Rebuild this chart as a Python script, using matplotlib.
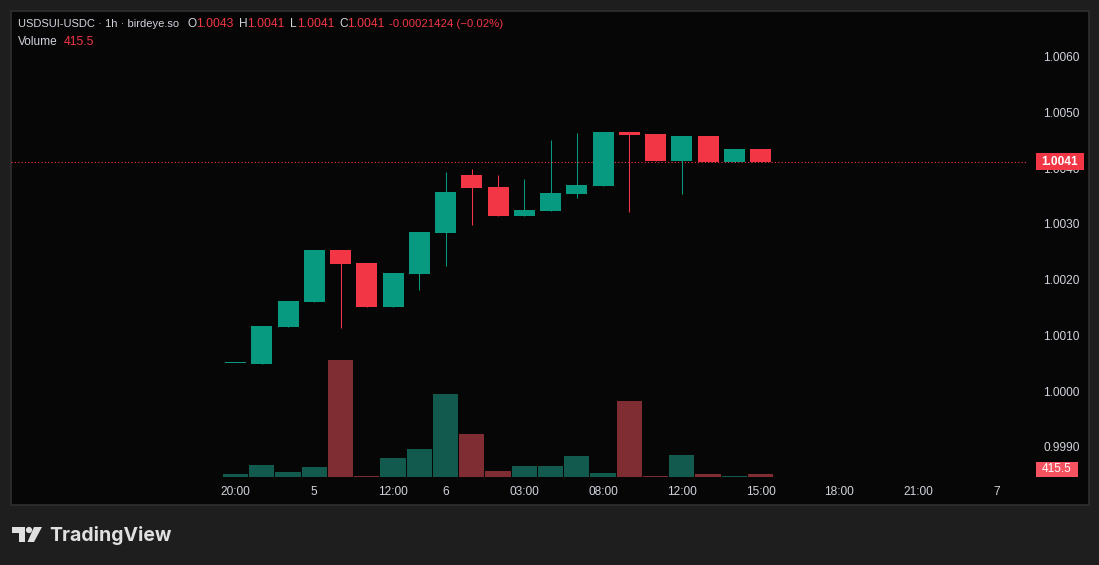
import matplotlib
matplotlib.use("Agg")
import matplotlib.pyplot as plt
from matplotlib.patches import Rectangle, Polygon, Circle

# ---------------- data ----------------
opens  = [1.00050, 1.00049, 1.00115, 1.00160, 1.00253, 1.00230, 1.00151, 1.00210,
          1.00284, 1.00388, 1.00366, 1.00314, 1.00323, 1.00354, 1.00368, 1.00465,
          1.00461, 1.00413, 1.00458, 1.00412, 1.00434]
highs  = [1.00050, 1.00117, 1.00162, 1.00253, 1.00253, 1.00230, 1.00212, 1.00285,
          1.00393, 1.00399, 1.00388, 1.00381, 1.00451, 1.00463, 1.00465, 1.00465,
          1.00461, 1.00458, 1.00458, 1.00434, 1.00434]
lows   = [1.00050, 1.00049, 1.00115, 1.00160, 1.00113, 1.00151, 1.00151, 1.00181,
          1.00224, 1.00298, 1.00314, 1.00314, 1.00323, 1.00347, 1.00368, 1.00321,
          1.00413, 1.00354, 1.00412, 1.00412, 1.00412]
closes = [1.00050, 1.00117, 1.00162, 1.00253, 1.00228, 1.00151, 1.00212, 1.00285,
          1.00357, 1.00364, 1.00314, 1.00325, 1.00356, 1.00370, 1.00465, 1.00460,
          1.00413, 1.00458, 1.00412, 1.00434, 1.00412]
volumes = [415, 1660, 690, 1390, 16200, 140, 2630, 3880, 11500, 5960, 830,
           1520, 1520, 2910, 550, 10500, 140, 3050, 415, 130, 415.5]

xtick_pos = [0, 3, 6, 8, 11, 14, 17, 20, 23, 26, 29]
xtick_labels = ["20:00", "5", "12:00", "6", "03:00", "08:00", "12:00", "15:00",
                "18:00", "21:00", "7"]
ytick_vals = [0.9990, 1.0000, 1.0010, 1.0020, 1.0030, 1.0040, 1.0050, 1.0060]

header_parts = [("USDSUI-USDC · 1h · birdeye.so", 17.5, "g", 8.0),
                ("O", 188, "g", 8.6), ("1.0043", 196, "r", 8.7),
                ("H", 239, "g", 8.6), ("1.0041", 247, "r", 8.7),
                ("L", 290, "g", 8.6), ("1.0041", 297, "r", 8.7),
                ("C", 339.5, "g", 8.6), ("1.0041", 347, "r", 8.7),
                ("-0.00021424 (\u22120.02%)", 389, "r", 8.2)]
last_price_label = "1.0041"
last_volume_label = "415.5"

# ---------------- style ----------------
W, H = 1099, 565
OUTER = "#1e1e1e"
PANEL = "#060606"
BORDER = "#2f2f2f"
GREEN = "#089981"
RED = "#f23645"
VGREEN = "#125a4e"
VRED = "#7f2d33"
TXT = "#d1d4dc"
FONT = "Liberation Sans"
FS = 8.6

plt.rcParams["font.family"] = [FONT, "DejaVu Sans"]

fig = plt.figure(figsize=(W / 100, H / 100), dpi=100, facecolor=OUTER)

# background overlay (pixel coordinates)
bg = fig.add_axes([0, 0, 1, 1], zorder=0)
bg.set_xlim(0, W); bg.set_ylim(H, 0); bg.axis("off")
bg.add_patch(Rectangle((10.5, 10.5), 1078, 494, facecolor=PANEL, edgecolor=BORDER, lw=1.2))

# plot area in pixels
L_PX, R_PX, T_PX, B_PX = 11, 1028, 11, 480
rect = [L_PX / W, (H - B_PX) / H, (R_PX - L_PX) / W, (B_PX - T_PX) / H]

# x mapping: index i -> pixel 235.5 + 26.25 i
X0, DX = 235.5, 26.25
xlim = ((L_PX - X0) / DX, (R_PX - X0) / DX)
# price mapping: pixel 391 -> 1.0000, 55700 px per unit
P0_PX, PPX = 391, 55700.0
ylim = (1 + (P0_PX - B_PX) / PPX, 1 + (P0_PX - T_PX) / PPX)

# volume axes
axv = fig.add_axes(rect, zorder=1)
axv.patch.set_visible(False)
VPX = 138.5
axv.set_xlim(*xlim)
axv.set_ylim(-(B_PX - 477) * VPX, (477 - T_PX) * VPX)
vcols = [VGREEN if c >= o else VRED for o, c in zip(opens, closes)]
axv.bar(range(len(volumes)), volumes, width=0.955, color=vcols, linewidth=0)
axv.axis("off")

# price axes
ax = fig.add_axes(rect, zorder=2)
ax.patch.set_visible(False)
ax.set_xlim(*xlim)
ax.set_ylim(*ylim)
for s in ax.spines.values():
    s.set_visible(False)

cols = [GREEN if c >= o else RED for o, c in zip(opens, closes)]
xs = list(range(len(opens)))
ax.vlines(xs, lows, highs, colors=cols, linewidth=0.75, zorder=2)
bottoms = [min(o, c) for o, c in zip(opens, closes)]
heights = [max(abs(c - o), 1.0 / PPX) for o, c in zip(opens, closes)]
ax.bar(xs, heights, bottom=bottoms, width=0.8, color=cols, linewidth=0, zorder=3)

# last price dotted line
ax.axhline(closes[-1], color=RED, linestyle=(0, (1, 2)), linewidth=0.8, zorder=1)

ax.yaxis.tick_right()
ax.set_yticks(ytick_vals)
ax.set_yticklabels([f"{v:.4f}" for v in ytick_vals])
ax.tick_params(axis="y", length=0, pad=10.8, labelsize=FS, labelcolor=TXT)
ax.set_xticks(xtick_pos)
ax.set_xticklabels(xtick_labels)
ax.tick_params(axis="x", length=0, pad=4.6, labelsize=FS, labelcolor=TXT)

# foreground overlay
fg = fig.add_axes([0, 0, 1, 1], zorder=3)
fg.patch.set_visible(False)
fg.set_xlim(0, W); fg.set_ylim(H, 0); fg.axis("off")

# header
for txt, x, c, fs in header_parts:
    fg.text(x, 24, txt, color=TXT if c == "g" else RED, fontsize=fs,
            ha="left", va="center")
fg.text(17.5, 42, "Volume", color=TXT, fontsize=FS, ha="left", va="center")
fg.text(64, 42, last_volume_label, color=RED, fontsize=8.8, ha="left", va="center")

# price label box
py = P0_PX - (closes[-1] - 1) * PPX
fg.add_patch(Rectangle((1036, py - 8.5), 48, 17, facecolor=RED, edgecolor="none"))
fg.text(1060, py, last_price_label, color="white", fontsize=FS, fontweight="bold",
        ha="center", va="center")
# volume label box
fg.add_patch(Rectangle((1036, 462), 42, 15, facecolor="#f7525f", edgecolor="none"))
fg.text(1057, 469.5, last_volume_label, color="white", fontsize=FS,
        ha="center", va="center")

# TradingView logo
LOGO = "#e0e0e0"
fg.add_patch(Polygon([(12, 527), (24.5, 527), (24.5, 542), (18.5, 542), (18.5, 533), (12, 533)],
                     closed=True, facecolor=LOGO, edgecolor="none"))
fg.add_patch(Circle((29, 530), 3.1, facecolor=LOGO, edgecolor="none"))
fg.add_patch(Polygon([(34, 527), (42, 527), (34, 542), (27.5, 542)],
                     closed=True, facecolor=LOGO, edgecolor="none"))
fg.text(49, 535.5, "TradingView", color=LOGO, fontsize=14, fontweight="bold",
        family=["Inter", "DejaVu Sans"], ha="left", va="center")

fig.savefig("out.png", dpi=100, facecolor=OUTER)
